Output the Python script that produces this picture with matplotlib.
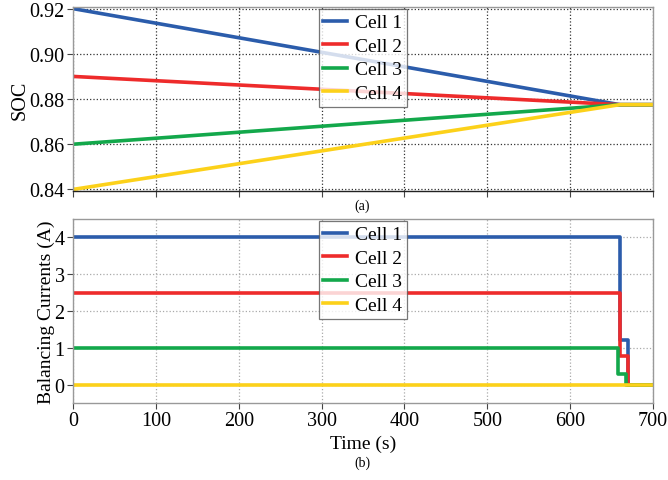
import matplotlib
matplotlib.use("Agg")
import matplotlib.pyplot as plt

plt.rcParams['font.family'] = ['Liberation Serif', 'DejaVu Serif']

cells = ["Cell 1", "Cell 2", "Cell 3", "Cell 4"]
colors = ["#2b5cab", "#ee2b2b", "#13a84b", "#fcd11a"]

# SOC traces
soc_t = [0, 660, 700]
soc_vals = [
    [0.920, 0.8775, 0.8775],
    [0.890, 0.8775, 0.8775],
    [0.860, 0.8775, 0.8775],
    [0.840, 0.8775, 0.8775],
]

# Balancing currents (steps)
cur_t = [
    [0, 660, 670, 700],
    [0, 660, 670, 700],
    [0, 658, 668, 700],
    [0, 660, 670, 700],
]
cur_vals = [
    [4.0, 1.22, 0.0, 0.0],
    [2.5, 0.78, 0.0, 0.0],
    [1.0, 0.30, 0.0, 0.0],
    [0.0, 0.0, 0.0, 0.0],
]

fig = plt.figure(figsize=(6.68, 4.81), dpi=100)
ax1 = fig.add_axes([0.1093, 0.6008, 0.8682, 0.3825])
ax2 = fig.add_axes([0.1093, 0.160, 0.8682, 0.3825])

for name, c, v in zip(cells, colors, soc_vals):
    ax1.plot(soc_t, v, color=c, lw=2.6, label=name)
for name, c, t, v in zip(cells, colors, cur_t, cur_vals):
    ax2.step(t, v, where='post', color=c, lw=2.6, label=name)

ax1.set_xlim(0, 700)
ax1.set_ylim(0.8393, 0.9207)
ax1.set_yticks([0.84, 0.86, 0.88, 0.90, 0.92])
ax1.set_yticklabels(["0.84", "0.86", "0.88", "0.90", "0.92"])
ax1.set_xticks(range(0, 701, 100))
ax1.set_xticklabels([])
ax1.set_ylabel("SOC", fontsize=14.5, labelpad=0)
ax1.grid(True, linestyle=':', color='#333333', lw=0.9)

ax2.set_xlim(0, 700)
ax2.set_ylim(-0.5, 4.5)
ax2.set_yticks([0, 1, 2, 3, 4])
ax2.set_xticks(range(0, 701, 100))
ax2.set_ylabel("Balancing Currents (A)", fontsize=14, labelpad=0)
ax2.set_xlabel("Time (s)", fontsize=14, labelpad=3)
ax2.grid(True, linestyle=':', color='#aaaaaa', lw=0.9)

for ax in (ax1, ax2):
    ax.tick_params(labelsize=14.5, length=4, color='#444444', pad=2)
    for s in ax.spines.values():
        s.set_color('#999999')
        s.set_linewidth(1.0)
    leg = ax.legend(loc='upper center', fontsize=14, frameon=True, fancybox=False,
                    edgecolor='#555555', borderpad=0.25, labelspacing=0.3,
                    handlelength=1.2, handletextpad=0.45, borderaxespad=0.1)
    leg.get_frame().set_linewidth(0.9)
ax1.spines['bottom'].set_color('#222222')

fig.text(0.542, 0.572, "(a)", ha='center', va='center', fontsize=10)
fig.text(0.542, 0.037, "(b)", ha='center', va='center', fontsize=10)

fig.savefig("out.png", dpi=100)
